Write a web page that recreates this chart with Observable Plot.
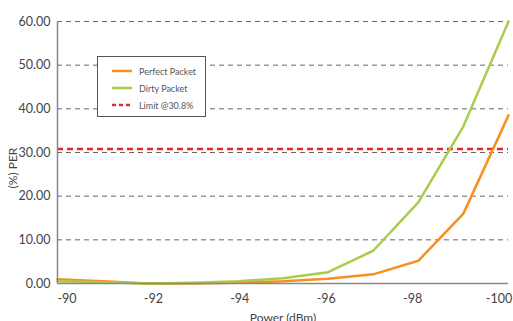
<!DOCTYPE html>
<html><head><meta charset="utf-8">
<script src="https://cdn.jsdelivr.net/npm/d3@7"></script>
<script src="https://cdn.jsdelivr.net/npm/@observablehq/plot@0.6"></script>
<style>
html,body{margin:0;padding:0;background:#fff;}
#wrap{position:relative;width:513px;height:321px;overflow:hidden;font-family:Lato,"Open Sans",sans-serif;}
#legend{position:absolute;left:97px;top:56px;width:107px;height:59px;border:1px solid #555;background:#fff;font-size:9px;color:#555;}
#legend .row{position:absolute;left:14px;height:12px;display:flex;align-items:center;}
#legend svg{margin-right:7px;}
#ytitle{position:absolute;left:13px;top:168px;transform:translate(-50%,-50%) rotate(-90deg);font-size:12px;color:#444;white-space:nowrap;line-height:1;}
</style>
</head><body>
<div id="wrap"></div>
<script>
const power = [-90, -91, -92, -93, -94, -95, -96, -97, -98, -99, -100];
const perfectPacket = [1.0, 0.5, 0.0, 0.0, 0.2, 0.5, 1.1, 2.1, 5.2, 16.0, 38.5];
const dirtyPacket = [0.5, 0.3, 0.0, 0.2, 0.5, 1.2, 2.6, 7.5, 18.6, 36.0, 60.0];
const limitValue = 30.8;
const xTicks = [-90, -92, -94, -96, -98, -100];
const yTicks = [0, 10, 20, 30, 40, 50, 60];
const seriesNames = ["Perfect Packet", "Dirty Packet", "Limit @30.8%"];
const colors = ["#F7901E", "#A9CD4A", "#E8272D"];
const xTitle = "Power (dBm)";
const yTitle = "(%) PER";

const rows = [];
power.forEach((p, i) => {
  rows.push({power: p, value: perfectPacket[i], series: seriesNames[0]});
  rows.push({power: p, value: dirtyPacket[i], series: seriesNames[1]});
});

// tick labels in the reference sit slightly inset from the data ends
const labelSqueeze = 0.958;
const labelCenter = -95;

const chart = Plot.plot({
  width: 513,
  height: 321,
  marginLeft: 57,
  marginRight: 5,
  marginTop: 21,
  marginBottom: 38,
  style: {fontFamily: "Lato, 'Open Sans', sans-serif", fontSize: "12px", color: "#444", background: "#fff"},
  x: {domain: [-90, -100], axis: null},
  y: {domain: [0, 60], ticks: yTicks},
  color: {domain: seriesNames.slice(0, 2), range: colors.slice(0, 2)},
  marks: [
    Plot.ruleY(yTicks.filter(d => d > 0), {stroke: "#666", strokeWidth: 1, strokeDasharray: "5,4"}),
    Plot.ruleY([limitValue], {stroke: colors[2], strokeWidth: 2.5, strokeDasharray: "6,4"}),
    Plot.line(rows, {x: "power", y: "value", stroke: "series", strokeWidth: 2.5}),
    Plot.ruleY([0], {stroke: "#888", strokeWidth: 1.5}),
    Plot.ruleX([-90], {stroke: "#888", strokeWidth: 1.5}),
    Plot.text(xTicks, {x: d => labelCenter + (d - labelCenter) * labelSqueeze, frameAnchor: "bottom", dy: 19, text: d => String(d), fontSize: 12.5, fill: "#444"}),
    Plot.text([xTitle], {frameAnchor: "bottom", dy: 38, text: d => d, fontSize: 12, fill: "#444"}),
    Plot.axisY({ticks: yTicks, tickSize: 0, tickPadding: 7, tickFormat: d => d.toFixed(2), fontSize: 12.5, label: null})
  ]
});
const wrap = document.getElementById("wrap");
wrap.appendChild(chart);

const yt = document.createElement("div");
yt.id = "ytitle";
yt.textContent = yTitle;
wrap.appendChild(yt);

const lg = document.createElement("div");
lg.id = "legend";
const dashes = [null, null, "4,3"];
seriesNames.forEach((name, i) => {
  const r = document.createElement("div");
  r.className = "row";
  r.style.top = (8 + i * 17) + "px";
  r.innerHTML = `<svg width="20" height="4"><line x1="0" y1="2" x2="20" y2="2" stroke="${colors[i]}" stroke-width="2.5" ${dashes[i] ? `stroke-dasharray="${dashes[i]}"` : ""}/></svg><span>${name}</span>`;
  lg.appendChild(r);
});
wrap.appendChild(lg);
</script>
</body></html>
